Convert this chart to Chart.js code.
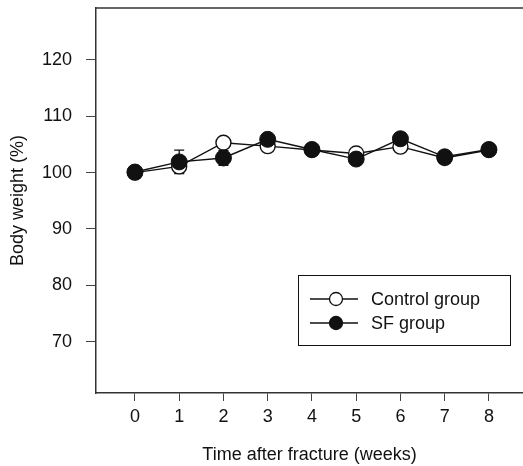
<!DOCTYPE html>
<html>
<head>
<meta charset="utf-8">
<script src="https://cdn.jsdelivr.net/npm/chart.js@4/dist/chart.umd.min.js"></script>
<style>
  body { margin: 0; background: #fff; }
  canvas { display: block; }
</style>
</head>
<body>
<canvas id="chart" width="523" height="466"></canvas>
<script>
const weeks = [0, 1, 2, 3, 4, 5, 6, 7, 8];
const controlValues = [100.0, 101.1, 105.3, 104.7, 104.0, 103.4, 104.6, 102.6, 104.0];
const sfValues = [100.1, 101.9, 102.6, 105.9, 104.1, 102.4, 106.0, 102.8, 104.1];
const controlErr = [0, 1.1, 0.5, 0.5, 0.5, 0.5, 0.5, 0.5, 0.5];
const sfErr = [0, 2.1, 1.3, 0.5, 0.5, 0.5, 0.5, 0.5, 0.5];
const yTicks = [70, 80, 90, 100, 110, 120];

const ink = '#111';
const fontFamily = '"Liberation Sans", Arial, sans-serif';

const toPoints = (vals) => vals.map((v, i) => ({ x: weeks[i], y: v }));

// error bars, drawn before the markers so the circles cover them
const errorBars = {
    id: 'errorBars',
    beforeDatasetsDraw(chart) {
        const ctx = chart.ctx;
        const xs = chart.scales.x, ys = chart.scales.y;
        const sets = [[controlValues, controlErr], [sfValues, sfErr]];
        ctx.save();
        ctx.strokeStyle = ink;
        ctx.lineWidth = 1.3;
        sets.forEach(([vals, errs]) => {
            vals.forEach((v, i) => {
                if (!errs[i]) return;
                const px = xs.getPixelForValue(weeks[i]);
                const top = ys.getPixelForValue(v + errs[i]);
                const bot = ys.getPixelForValue(v - errs[i]);
                ctx.beginPath();
                ctx.moveTo(px, top); ctx.lineTo(px, bot);
                ctx.moveTo(px - 5, top); ctx.lineTo(px + 5, top);
                ctx.moveTo(px - 5, bot); ctx.lineTo(px + 5, bot);
                ctx.stroke();
            });
        });
        ctx.restore();
    }
};

// top border of the plot frame plus the boxed legend
const frameAndLegend = {
    id: 'frameAndLegend',
    afterDraw(chart) {
        const ctx = chart.ctx;
        const area = chart.chartArea;
        ctx.save();
        ctx.strokeStyle = '#333';
        ctx.lineWidth = 1.5;
        ctx.beginPath();
        ctx.moveTo(area.left, area.top);
        ctx.lineTo(area.right, area.top);
        ctx.stroke();

        // legend box
        ctx.strokeStyle = ink;
        ctx.lineWidth = 1;
        ctx.strokeRect(298.5, 275.5, 212, 70);

        const rows = [
            { label: 'Control group', fill: '#fff', y: 299 },
            { label: 'SF group', fill: ink, y: 323 }
        ];
        ctx.font = '18px ' + fontFamily;
        ctx.textBaseline = 'middle';
        rows.forEach(r => {
            ctx.strokeStyle = ink;
            ctx.lineWidth = 1.3;
            ctx.beginPath();
            ctx.moveTo(310, r.y); ctx.lineTo(358, r.y);
            ctx.stroke();
            ctx.beginPath();
            ctx.arc(336, r.y, 6.5, 0, Math.PI * 2);
            ctx.fillStyle = r.fill;
            ctx.fill();
            ctx.stroke();
            ctx.fillStyle = ink;
            ctx.fillText(r.label, 371, r.y + 1);
        });
        ctx.restore();
    }
};

new Chart(document.getElementById('chart'), {
    type: 'line',
    data: {
        datasets: [
            {
                label: 'Control group',
                data: toPoints(controlValues),
                borderColor: ink,
                borderWidth: 1.4,
                pointRadius: 7.5,
                pointBorderWidth: 1.4,
                pointBackgroundColor: '#fff',
                pointBorderColor: ink,
                order: 1
            },
            {
                label: 'SF group',
                data: toPoints(sfValues),
                borderColor: ink,
                borderWidth: 1.4,
                pointRadius: 8,
                pointBorderWidth: 1,
                pointBackgroundColor: ink,
                pointBorderColor: ink,
                order: 0
            }
        ]
    },
    options: {
        responsive: false,
        animation: false,
        devicePixelRatio: 1,
        layout: { autoPadding: false, padding: { left: 0, right: 0, top: 8, bottom: 0 } },
        plugins: {
            legend: { display: false },
            tooltip: { enabled: false }
        },
        scales: {
            x: {
                type: 'linear',
                min: -0.88,
                max: 8.77,
                afterBuildTicks: (scale) => { scale.ticks = weeks.map(v => ({ value: v })); },
                afterFit: (scale) => {
                    scale.height = 73;
                    scale.paddingLeft = 0;
                    scale.paddingRight = 0;
                },
                border: { display: true, color: '#333', width: 1.5 },
                grid: { drawOnChartArea: false, drawTicks: true, tickLength: 8, color: '#444', lineWidth: 1 },
                ticks: { color: ink, font: { family: fontFamily, size: 18 }, padding: 5, maxRotation: 0 },
                title: {
                    display: true,
                    text: 'Time after fracture (weeks)',
                    color: ink,
                    font: { family: fontFamily, size: 18 },
                    padding: { top: 0, bottom: 0 }
                }
            },
            y: {
                min: 60.9,
                max: 129.2,
                afterBuildTicks: (scale) => { scale.ticks = yTicks.map(v => ({ value: v })); },
                afterFit: (scale) => {
                    scale.width = 96;
                    scale.paddingTop = 0;
                    scale.paddingBottom = 0;
                },
                border: { display: true, color: '#333', width: 1.5 },
                grid: { drawOnChartArea: false, drawTicks: true, tickLength: 10, color: '#444', lineWidth: 1 },
                ticks: { color: ink, font: { family: fontFamily, size: 18 }, padding: 14 },
                title: {
                    display: true,
                    text: 'Body weight (%)',
                    color: ink,
                    font: { family: fontFamily, size: 18 },
                    padding: { top: 7, bottom: 0 }
                }
            }
        }
    },
    plugins: [errorBars, frameAndLegend]
});
</script>
</body>
</html>
